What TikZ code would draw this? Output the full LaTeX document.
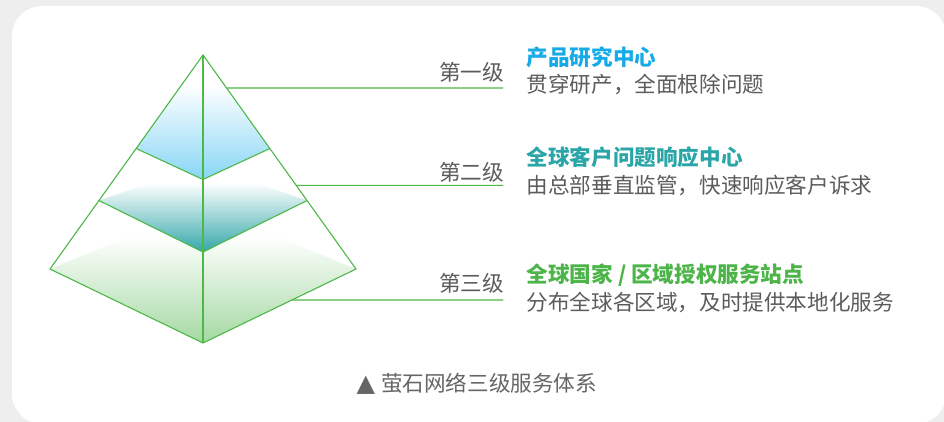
\documentclass[tikz,border=0pt]{standalone}
\usepackage{fontspec}
\usetikzlibrary{calc}
\newfontfamily\cjk{Noto Sans CJK SC}
\newfontfamily\dvs{DejaVu Sans}
\definecolor{bg}{HTML}{EEEEEE}
\definecolor{lineg}{HTML}{4DB848}
\definecolor{txtg}{HTML}{5C5C5C}
\definecolor{capg}{HTML}{666666}
\definecolor{cA}{HTML}{16ABE6}
\definecolor{cB}{HTML}{2AA6A8}
\definecolor{cC}{HTML}{4CB448}
\definecolor{shA}{HTML}{88D6F5}
\definecolor{shB}{HTML}{34A7A9}
\definecolor{shC}{HTML}{A4D9A2}
\tikzset{
  pyr/.style={draw=lineg, line width=1.1pt, line join=miter},
  lead/.style={draw=lineg, line width=1.1pt},
  lbl/.style={font=\cjk\fontsize{21.6}{24}\selectfont, text=txtg, inner sep=0pt, anchor=base east},
  ttl/.style={font=\cjk\bfseries\fontsize{21.6}{24}\selectfont, inner sep=0pt, anchor=base west},
  subt/.style={font=\cjk\fontsize{21.6}{24}\selectfont, text=txtg, inner sep=0pt, anchor=base west},
  capt/.style={font=\cjk\fontsize{21.6}{24}\selectfont, text=capg, inner sep=0pt, anchor=base west}
}
\begin{document}
\begin{tikzpicture}[x=1pt,y=-1pt]
\useasboundingbox (0,0) rectangle (944,422);
\fill[bg] (0,0) rectangle (944,422);
\fill[white, rounded corners=30pt] (12,6) rectangle (946,424);
% pyramid points
\coordinate (A) at (203,55);
\coordinate (LB) at (50,269);
\coordinate (RB) at (356,269);
\coordinate (F) at (203,343);
\coordinate (TL) at ($(A)!0.437!(LB)$);
\coordinate (TR) at ($(A)!0.437!(RB)$);
\coordinate (TF) at (203,179.5);
\coordinate (ML) at ($(A)!0.68!(LB)$);
\coordinate (MR) at ($(A)!0.68!(RB)$);
\coordinate (MF) at (203,252);
\coordinate (P1) at ($(A)!0.14!(LB)$);
\coordinate (P2) at ($(A)!0.14!(RB)$);
% shadings (bottom first)
\shade[top color=white, bottom color=shC] (LB) -- (130,236) -- (276,236) -- (RB) -- (F) -- cycle;
\shade[top color=white, bottom color=shB] (ML) -- (150,183) -- (256,183) -- (MR) -- (MF) -- cycle;
\shade[top color=white, bottom color=shA] (P1) -- (P2) -- (TR) -- (TF) -- (TL) -- cycle;
% edges
\draw[pyr] (A) -- (LB) -- (F) -- (RB) -- cycle;
\draw[pyr] (A) -- (F);
\draw[pyr] (TL) -- (TF) -- (TR);
\draw[pyr] (ML) -- (MF) -- (MR);
% leaders
\coordinate (l1s) at ($(A)!0.1542!(RB)$);
\coordinate (l1e) at (503,88);
\coordinate (l2s) at ($(A)!0.6089!(RB)$);
\coordinate (l2e) at (503,185.3);
\coordinate (l3s) at ($(RB)!0.4189!(F)$);
\coordinate (l3e) at (503,300);
\draw[lead] (l1s) -- (l1e);
\draw[lead] (l2s) -- (l2e);
\draw[lead] (l3s) -- (l3e);
% texts
\node[lbl] (v1) at (504,81) {第一级};
\node[lbl] (v2) at (504,180) {第二级};
\node[lbl] (v3) at (504,291.5) {第三级};
\node[ttl, text=cA] (t1) at (526.5,65.5) {产品研究中心};
\node[subt] (s1) at (526.5,92.5) {贯穿研产，全面根除问题};
\node[ttl, text=cB] (t2) at (526.5,165) {全球客户问题响应中心};
\node[subt] (s2) at (526.5,193.5) {由总部垂直监管，快速响应客户诉求};
\node[ttl, text=cC] (t3) at (526.5,282) {全球国家 / 区域授权服务站点};
\node[subt] (s3) at (526.5,310) {分布全球各区域，及时提供本地化服务};
\node[capt] (cap) at (356.5,391.5) {{\dvs\fontsize{24}{26}\selectfont ▲}\hspace{6pt}萤石网络三级服务体系};
\end{tikzpicture}
\end{document}
